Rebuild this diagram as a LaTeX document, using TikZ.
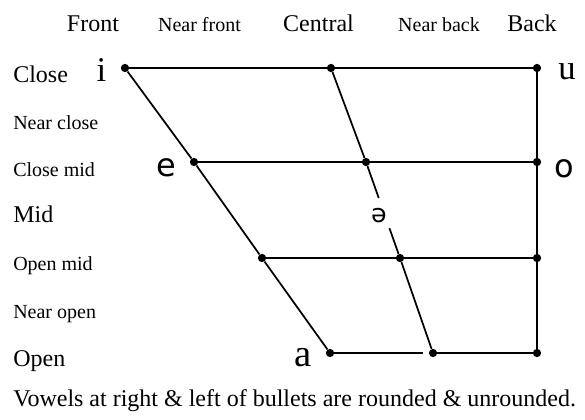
\documentclass[tikz,border=0pt]{standalone}
\usepackage{fontspec}
\setmainfont{Liberation Serif}
\newfontfamily\ipasans{DejaVu Sans}
\usetikzlibrary{calc}
\tikzset{
  dotnode/.style={circle,fill=black,inner sep=0pt,minimum size=6.2pt},
  biglabel/.style={anchor=base west,inner sep=0pt,font=\fontsize{18}{20}\selectfont},
  smalllabel/.style={anchor=base west,inner sep=0pt,font=\fontsize{15}{17}\selectfont},
  headbig/.style={anchor=base,inner sep=0pt,font=\fontsize{18}{20}\selectfont},
  headsmall/.style={anchor=base,inner sep=0pt,font=\fontsize{15}{17}\selectfont},
  vowelserif/.style={anchor=base,inner sep=0pt,font=\fontsize{26}{28}\selectfont},
  vowelsans/.style={anchor=base,inner sep=0pt,font=\ipasans\fontsize{24}{26}\selectfont},
  edge/.style={line width=1.3pt}
}
\begin{document}
\begin{tikzpicture}[x=0.75pt,y=-0.75pt]
\useasboundingbox (0,0) rectangle (585,419);
% column headers
\node[headbig]   (hfront)   at (93,31)  {Front};
\node[headsmall] (hnfront)  at (199.5,31) {Near front};
\node[headbig]   (hcentral) at (318.5,31) {Central};
\node[headsmall] (hnback)   at (439,31) {Near back};
\node[headbig]   (hback)    at (532,31) {Back};
% row labels
\node[biglabel]   (rclose)  at (13,82)  {Close};
\node[smalllabel] (rnclose) at (13,129) {Near close};
\node[smalllabel] (rcmid)   at (13,176) {Close mid};
\node[biglabel]   (rmid)    at (13,222) {Mid};
\node[smalllabel] (romid)   at (13,270) {Open mid};
\node[smalllabel] (rnopen)  at (13,318) {Near open};
\node[biglabel]   (ropen)   at (13,366) {Open};
% dots
\node[dotnode] (cf) at (125,68) {};
\node[dotnode] (cc) at (331,68) {};
\node[dotnode] (cb) at (537,68) {};
\node[dotnode] (mf) at (194,162) {};
\node[dotnode] (mc) at (366,162) {};
\node[dotnode] (mb) at (537,162) {};
\node[dotnode] (of) at (262,258) {};
\node[dotnode] (oc) at (400,258) {};
\node[dotnode] (ob) at (537,258) {};
\node[dotnode] (af) at (330,353) {};
\node[dotnode] (ac) at (433,353) {};
\node[dotnode] (ab) at (537,353) {};
% vowels
\node[vowelserif] (vi) at (101.5,81) {i};
\node[vowelserif] (vu) at (567,79) {u};
\node[vowelsans]  (ve) at (166.5,176) {e};
\node[vowelsans]  (vo) at (564.5,177) {o};
\node[vowelserif,font=\fontsize{29}{31}\selectfont] (va) at (303.5,366) {a};
\node[anchor=center,inner sep=0pt,font=\ipasans\fontsize{19}{21}\selectfont] (vschwa) at (379,216) {ə};
\coordinate (g1) at ($(mc)!0.375!(oc)$);
\coordinate (g2) at ($(mc)!0.69!(oc)$);
% horizontal lines
\draw[edge] (cf) -- (cc) -- (cb);
\draw[edge] (mf) -- (mc) -- (mb);
\draw[edge] (of) -- (oc) -- (ob);
\draw[edge,shorten >=4.5pt] (af) -- (ac);
\draw[edge] (ac) -- (ab);
% slanted / vertical lines
\draw[edge] (cf) -- (mf) -- (of) -- (af);
\draw[edge] (cc) -- (mc) -- (g1);
\draw[edge] (g2) -- (oc) -- (ac);
\draw[edge] (cb) -- (mb) -- (ob) -- (ab);
% caption
\node[biglabel] (caption) at (13,406) {Vowels at right \& left of bullets are rounded \& unrounded.};
\end{tikzpicture}
\end{document}
